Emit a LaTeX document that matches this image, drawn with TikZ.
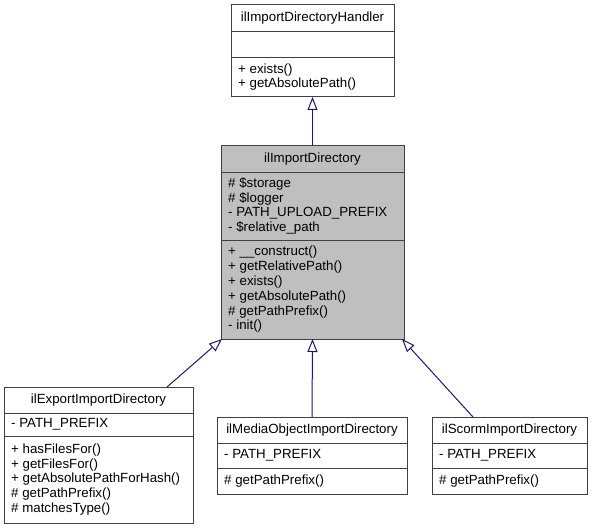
\documentclass[tikz,border=0pt]{standalone}
\usepackage{fontspec}
\setmainfont{Liberation Sans}
\usetikzlibrary{arrows.meta}
\definecolor{edgeblue}{HTML}{191970}
\definecolor{boxgray}{HTML}{BFBFBF}
\definecolor{boxline}{HTML}{404040}
\tikzset{
  classbox/.style={draw=boxline, line width=1pt, inner sep=0pt, outer sep=0pt},
  title/.style={font=\fontsize{13.3}{14.8}\selectfont, inner sep=0pt},
  members/.style={font=\fontsize{13.3}{14.8}\selectfont, align=left, anchor=west, inner sep=0pt},
  inherit/.style={draw=edgeblue, line width=1pt, -{Triangle[open, length=13pt, width=10pt]}}
}

\begin{document}
\begin{tikzpicture}[x=1pt, y=-1pt]
    \useasboundingbox (0,0) rectangle (593,529);

    % base class
    \node[classbox, minimum width=163pt, minimum height=92pt] (hdl) at (312.5,51) {};
    \draw[boxline] (231,31) -- (394,31) (231,57) -- (394,57);
    \node[title] (hdlname) at (312.5,18) {ilImportDirectoryHandler};
    \node[members] (hdlops) at (238,77) {+ exists()\\+ getAbsolutePath()};

    % ilImportDirectory
    \node[classbox, fill=boxgray, minimum width=183pt, minimum height=193pt] (imp) at (312.5,242.5) {};
    \draw[boxline] (221,172) -- (404,172) (221,240) -- (404,240);
    \node[title] (impname) at (312.5,159) {ilImportDirectory};
    \node[members] (impattr) at (228,206) {\# \$storage\\\# \$logger\\- PATH\_UPLOAD\_PREFIX\\- \$relative\_path};
    \node[members] (impops) at (228,289.5) {+ \_\_construct()\\+ getRelativePath()\\+ exists()\\+ getAbsolutePath()\\\# getPathPrefix()\\- init()};

    % derived classes
    \node[classbox, minimum width=189pt, minimum height=136pt] (expo) at (98.5,455) {};
    \draw[boxline] (4,413) -- (193,413) (4,436) -- (193,436);
    \node[title] (exponame) at (98.5,400) {ilExportImportDirectory};
    \node[members] (expoattr) at (11,424.5) {- PATH\_PREFIX};
    \node[members] (expoops) at (11,479.5) {+ hasFilesFor()\\+ getFilesFor()\\+ getAbsolutePathForHash()\\\# getPathPrefix()\\\# matchesType()};

    \node[classbox, minimum width=190pt, minimum height=77pt] (media) at (312,455.5) {};
    \draw[boxline] (217,443) -- (407,443) (217,468) -- (407,468);
    \node[title] (medianame) at (312,430) {ilMediaObjectImportDirectory};
    \node[members] (mediaattr) at (224,455.5) {- PATH\_PREFIX};
    \node[members] (mediaops) at (224,481) {\# getPathPrefix()};

    \node[classbox, minimum width=155pt, minimum height=77pt] (scorm) at (509.5,455.5) {};
    \draw[boxline] (432,443) -- (587,443) (432,468) -- (587,468);
    \node[title] (scormname) at (509.5,430) {ilScormImportDirectory};
    \node[members] (scormattr) at (439,455.5) {- PATH\_PREFIX};
    \node[members] (scormops) at (439,481) {\# getPathPrefix()};

    % inheritance
    \draw[inherit] (imp.north) -- (hdl.south);
    \draw[inherit] ([xshift=-26pt]expo.north east) -- ([xshift=1pt]imp.south west);
    \draw[inherit] (media.north) -- (imp.south);
    \draw[inherit] ([xshift=41pt]scorm.north west) -- ([xshift=-2pt]imp.south east);
\end{tikzpicture}
\end{document}
